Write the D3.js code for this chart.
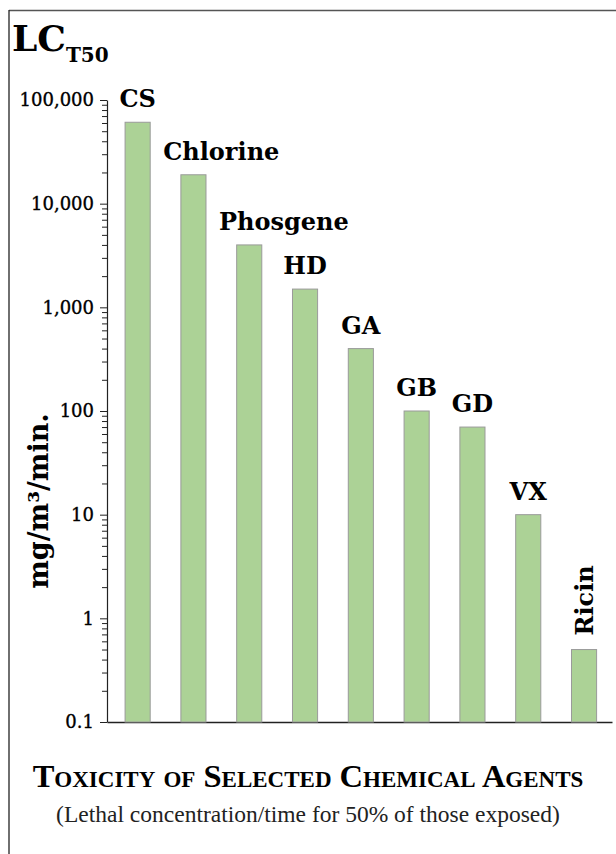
<!DOCTYPE html>
<html>
<head>
<meta charset="utf-8">
<script src="https://cdn.jsdelivr.net/npm/d3@7"></script>
<style>
  html, body { margin: 0; padding: 0; background: #fff; }
  svg { display: block; }
</style>
</head>
<body>
<svg id="chart" width="616" height="854"></svg>
<script>
// ---- data ----
const categories = ["CS", "Chlorine", "Phosgene", "HD", "GA", "GB", "GD", "VX", "Ricin"];
const values = [61000, 19000, 4000, 1500, 400, 100, 70, 10, 0.5];
const majorTicks = [0.1, 1, 10, 100, 1000, 10000, 100000];
const tickLabels = ["0.1", "1", "10", "100", "1,000", "10,000", "100,000"];
const yTitle = "mg/m³/min.";
const title = "Toxicity of Selected Chemical Agents";
const subtitle = "(Lethal concentration/time for 50% of those exposed)";

// ---- layout ----
const W = 616, H = 854;
const plot = { left: 107, right: 612, top: 100, bottom: 722 };
const svg = d3.select("#chart");

// frame (top & left rules)
svg.append("line").attr("x1", 9).attr("x2", W).attr("y1", 10.5).attr("y2", 10.5)
  .attr("stroke", "#555").attr("stroke-width", 1.5);
svg.append("line").attr("x1", 9).attr("x2", 9).attr("y1", 10).attr("y2", H)
  .attr("stroke", "#222").attr("stroke-width", 1.3);

// scales
const y = d3.scaleLog().domain([0.1, 100000]).range([plot.bottom, plot.top]);
const x = d3.scaleBand().domain(categories).range([plot.left, plot.right])
  .paddingInner(0.55).paddingOuter(0.3).align(0.54);

// minor ticks
const minorTicks = [];
majorTicks.slice(0, -1).forEach(d => { for (let k = 2; k <= 9; k++) minorTicks.push(d * k); });

const serif = "'DejaVu Serif', serif";

svg.append("g").attr("transform", `translate(${plot.left},0)`)
  .call(d3.axisLeft(y).tickValues(minorTicks).tickSize(5).tickFormat(""))
  .call(g => g.select(".domain").remove())
  .call(g => g.selectAll("line").attr("stroke", "#222"));

const yAxis = svg.append("g").attr("transform", `translate(${plot.left},0)`)
  .call(d3.axisLeft(y).tickValues(majorTicks).tickSize(7).tickSizeOuter(0).tickPadding(6)
    .tickFormat((d, i) => tickLabels[i]));
yAxis.select(".domain").attr("stroke", "#222").attr("stroke-width", 1.2);
yAxis.selectAll("line").attr("stroke", "#222");
yAxis.selectAll("text").attr("font-family", serif).attr("font-size", 18)
  .attr("fill", "#000").attr("stroke", "#000").attr("stroke-width", 0.35);

// x axis line
svg.append("g").attr("transform", `translate(0,${plot.bottom})`)
  .call(d3.axisBottom(x).tickSize(0).tickSizeOuter(0).tickFormat(""))
  .call(g => g.select(".domain").attr("stroke", "#222").attr("stroke-width", 1.5));

// bars
svg.append("g").selectAll("rect").data(categories).join("rect")
  .attr("x", d => x(d))
  .attr("y", (d, i) => y(values[i]))
  .attr("width", x.bandwidth())
  .attr("height", (d, i) => plot.bottom - y(values[i]))
  .attr("fill", "#acd296")
  .attr("stroke", "#9a9a9a")
  .attr("stroke-width", 1);

// bar labels
const labelG = svg.append("g");
categories.forEach((c, i) => {
  const cx = x(c) + x.bandwidth() / 2;
  const top = y(values[i]);
  if (c === "Ricin") {
    labelG.append("text")
      .attr("transform", `translate(${cx + 9},${top - 14}) rotate(-90)`)
      .attr("font-family", serif).attr("font-weight", "bold").attr("font-size", 24)
      .attr("text-anchor", "start").text(c);
    return;
  }
  const t = labelG.append("text")
    .attr("y", top - 15)
    .attr("font-family", serif).attr("font-weight", "bold").attr("font-size", 24)
    .text(c);
  const w = t.node().getComputedTextLength();
  const prevRight = i > 0 ? x(categories[i - 1]) + x.bandwidth() + 13 : -Infinity;
  const left = Math.max(cx - w / 2, prevRight);
  t.attr("x", left);
});

// LC_T50 header
const hdr = svg.append("text").attr("x", 12).attr("y", 51)
  .attr("font-family", serif).attr("font-weight", "bold").attr("fill", "#000");
hdr.append("tspan").attr("font-size", 36).text("LC");
hdr.append("tspan").attr("font-size", 20).attr("dy", 11).attr("dx", 0).text("T50");

// y-axis title
svg.append("text")
  .attr("transform", `translate(48,501) rotate(-90)`)
  .attr("text-anchor", "middle")
  .attr("font-family", serif).attr("font-weight", "bold").attr("font-size", 27)
  .text(yTitle);

// titles
svg.append("text").attr("x", 308).attr("y", 787).attr("text-anchor", "middle")
  .attr("font-family", "'Liberation Serif', serif").attr("font-size", 32.5)
  .attr("font-weight", "bold")
  .style("font-variant", "small-caps").attr("fill", "#000")
  .text(title);
svg.append("text").attr("x", 308).attr("y", 822).attr("text-anchor", "middle")
  .attr("font-family", "'Liberation Serif', serif").attr("font-size", 23.5)
  .attr("fill", "#222")
  .text(subtitle);
</script>
</body>
</html>
